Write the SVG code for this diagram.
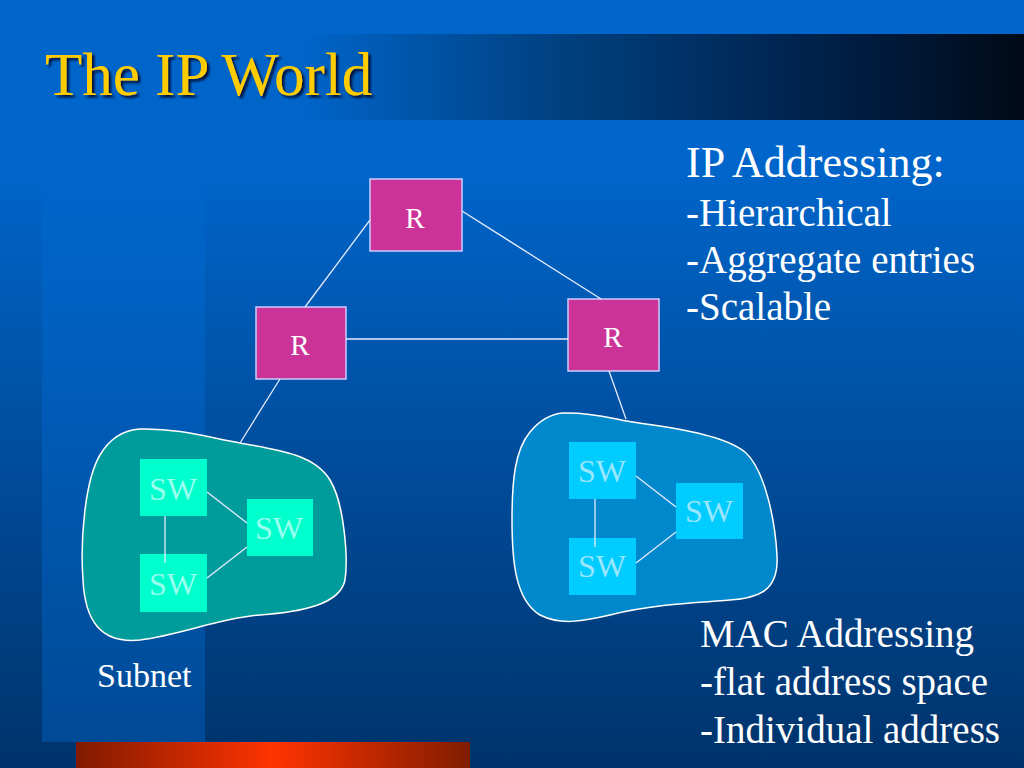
<svg xmlns="http://www.w3.org/2000/svg" width="1024" height="768" viewBox="0 0 1024 768">
<defs>
<linearGradient id="bg" x1="0" y1="0" x2="0" y2="768" gradientUnits="userSpaceOnUse">
<stop offset="0" stop-color="#0066CC"/>
<stop offset="0.2" stop-color="#0066CC"/>
<stop offset="1" stop-color="#00336B"/>
</linearGradient>
<linearGradient id="col" x1="0" y1="120" x2="0" y2="742" gradientUnits="userSpaceOnUse">
<stop offset="0" stop-color="#0066CC"/>
<stop offset="0.25" stop-color="#0062C4"/>
<stop offset="1" stop-color="#004A96"/>
</linearGradient>
<linearGradient id="bar" x1="0" y1="0" x2="1024" y2="0" gradientUnits="userSpaceOnUse">
<stop offset="0" stop-color="#0066CC"/>
<stop offset="0.3" stop-color="#0064C8"/>
<stop offset="0.55" stop-color="#00407F"/>
<stop offset="0.8" stop-color="#00214A"/>
<stop offset="1" stop-color="#000A17"/>
</linearGradient>
<linearGradient id="orange" x1="76" y1="0" x2="470" y2="0" gradientUnits="userSpaceOnUse">
<stop offset="0" stop-color="#801A00"/>
<stop offset="0.5" stop-color="#FF3300"/>
<stop offset="1" stop-color="#801C00"/>
</linearGradient>
<filter id="shadow" x="-5%" y="-20%" width="110%" height="140%">
<feDropShadow dx="2.5" dy="2.5" stdDeviation="1" flood-color="#000022" flood-opacity="0.85"/>
</filter>
</defs>
<style>
text { font-family: "Liberation Serif", "Times New Roman", serif; }
.title { fill: #FFCC00; font-size: 61px; }
.body { fill: #FFFFFF; }
.router rect { fill: #CC3399; stroke: #CCCCFF; stroke-width: 1.5; }
.router text { fill: #FFFFFF; font-size: 29px; text-anchor: middle; }
.blob { stroke: #FFFFFF; stroke-width: 1.5; }
.swA rect { fill: #00FFCC; }
.swA text { fill: #99FFEE; font-size: 32px; text-anchor: middle; }
.swB rect { fill: #00CCFF; }
.swB text { fill: #99E6FF; font-size: 32px; text-anchor: middle; }
.conn line { stroke: #E6ECFF; stroke-width: 1.3; }
</style>

<rect x="0" y="0" width="1024" height="768" fill="url(#bg)"/>
<rect x="42" y="120" width="163" height="622" fill="url(#col)"/>
<rect x="0" y="34" width="1024" height="86" fill="url(#bar)"/>
<rect x="76" y="742" width="394" height="26" fill="url(#orange)"/>

<text class="title" x="45" y="95" filter="url(#shadow)">The IP World</text>

<g id="subnet-left">
<path class="blob" fill="#009C9C" d="M 140,429 C 180,428 210,438 240,443 C 280,450 315,455 330,480 C 345,505 348,560 345,580 C 340,605 300,612 260,615 C 220,618 180,635 140,640 C 100,644 85,620 83,580 C 80,540 85,480 100,455 C 110,438 125,430 140,429 Z"/>
</g>
<g id="subnet-right">
<path class="blob" fill="#0088CC" d="M 563,413 C 590,412 610,418 627,421 C 660,427 720,432 745,452 C 765,470 775,520 777,555 C 779,590 760,598 730,600 C 690,603 650,605 610,615 C 580,622 560,625 540,615 C 515,600 512,560 512,520 C 512,480 515,450 530,432 C 540,420 550,414 563,413 Z"/>
</g>

<g id="router-top" class="router"><rect x="370" y="179" width="92" height="72"/><text x="415" y="228">R</text></g>
<g id="router-left" class="router"><rect x="256" y="307" width="90" height="72"/><text x="300" y="355">R</text></g>
<g id="router-right" class="router"><rect x="568" y="299" width="91" height="72"/><text x="613" y="347">R</text></g>

<g id="sw-l1" class="swA"><rect x="140" y="459" width="67" height="57"/><text x="173" y="500">SW</text></g>
<g id="sw-l2" class="swA"><rect x="247" y="499" width="66" height="57"/><text x="279" y="539">SW</text></g>
<g id="sw-l3" class="swA"><rect x="140" y="554" width="67" height="58"/><text x="173" y="595">SW</text></g>

<g id="sw-r1" class="swB"><rect x="569" y="442" width="67" height="57"/><text x="602" y="482">SW</text></g>
<g id="sw-r2" class="swB"><rect x="676" y="483" width="67" height="56"/><text x="709" y="522">SW</text></g>
<g id="sw-r3" class="swB"><rect x="569" y="538" width="67" height="57"/><text x="602" y="577">SW</text></g>

<g id="connectors" class="conn">
<line x1="370" y1="220" x2="305" y2="307"/>
<line x1="462" y1="211" x2="601" y2="299"/>
<line x1="346" y1="339" x2="568" y2="339"/>
<line x1="280" y1="379" x2="240" y2="443"/>
<line x1="609" y1="371" x2="626" y2="419"/>
<line x1="165" y1="516" x2="165" y2="563"/>
<line x1="207" y1="492" x2="247" y2="523"/>
<line x1="207" y1="578" x2="247" y2="547"/>
<line x1="595" y1="499" x2="595" y2="547"/>
<line x1="636" y1="476" x2="676" y2="507"/>
<line x1="636" y1="563" x2="676" y2="532"/>
</g>

<text class="body" x="686" y="177" font-size="44">IP Addressing:</text>
<text class="body" x="686" y="226" font-size="39">-Hierarchical</text>
<text class="body" x="686" y="273" font-size="39">-Aggregate entries</text>
<text class="body" x="686" y="320" font-size="39">-Scalable</text>

<text class="body" x="700" y="647" font-size="39">MAC Addressing</text>
<text class="body" x="700" y="695" font-size="39">-flat address space</text>
<text class="body" x="700" y="743" font-size="39">-Individual address</text>

<text class="body" x="97" y="687" font-size="34">Subnet</text>
</svg>
